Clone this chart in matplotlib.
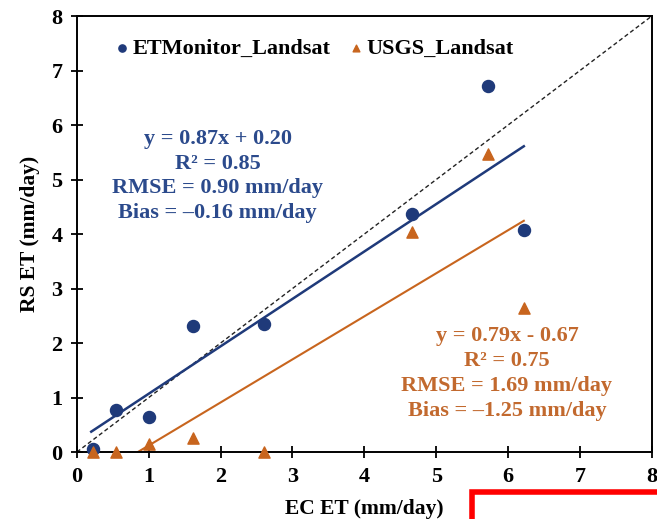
import matplotlib
matplotlib.use("Agg")
import matplotlib.pyplot as plt
import numpy as np
from matplotlib.patches import Rectangle

plt.rcParams['font.family'] = ['Liberation Serif', 'DejaVu Serif']
plt.rcParams['font.weight'] = 'bold'

ec_et = [0.22, 0.55, 1.0, 1.62, 2.6, 4.66, 5.72, 6.22]
etmonitor = [0.05, 0.78, 0.65, 2.32, 2.35, 4.36, 6.72, 4.08]
usgs = [0.0, 0.0, 0.15, 0.25, 0.0, 4.04, 5.47, 2.65]

blue_fit = (0.87, 0.20)
orange_fit = (0.79, -0.67)
blue_fit_x = [0.2, 6.22]
orange_fit_x = [0.85, 6.22]

ticks = [0, 1, 2, 3, 4, 5, 6, 7, 8]

blue = '#1f3a7a'
orange = '#c8651e'
blue_txt = '#2b4a8c'
orange_txt = '#c2692e'

fig = plt.figure(figsize=(6.57, 5.19), dpi=100)
ax = fig.add_axes([0.117, 0.129, 0.875, 0.840])

ax.plot([0, 8], [0, 8], linestyle=(0, (3, 2)), color='#222222', linewidth=1.0, zorder=1)

bx = np.array(blue_fit_x)
ax.plot(bx, blue_fit[0] * bx + blue_fit[1], color=blue, linewidth=1.8, zorder=2)
ox = np.array(orange_fit_x)
ax.plot(ox, orange_fit[0] * ox + orange_fit[1], color=orange, linewidth=1.5, zorder=2)

ax.scatter(ec_et, etmonitor, s=75, marker='o', color=blue, label='ETMonitor_Landsat', zorder=3, clip_on=False)
ax.scatter(ec_et, usgs, s=65, marker='^', color=orange, label='USGS_Landsat', zorder=3, clip_on=False)

ax.set_xlim(0, 8)
ax.set_ylim(0, 8)
ax.set_xticks(ticks)
ax.set_yticks(ticks)
ax.tick_params(direction='inout', length=9, width=1.3, labelsize=16, pad=6)
for lab in ax.get_xticklabels() + ax.get_yticklabels():
    lab.set_fontweight('bold')
for sp in ax.spines.values():
    sp.set_linewidth(1.4)

ax.set_xlabel('EC ET (mm/day)', fontsize=15.5, fontweight='bold', labelpad=9)
ax.set_ylabel('RS ET (mm/day)', fontsize=15.5, fontweight='bold', labelpad=8)

leg = ax.legend(loc='upper left', bbox_to_anchor=(0.027, 0.995), ncol=2, frameon=False,
                prop={'size': 16, 'weight': 'bold'}, handletextpad=0.0, columnspacing=0.7,
                markerscale=0.6, handlelength=0.9)

ax.text(0.245, 0.742, 'y = 0.87x + 0.20\nR² = 0.85\nRMSE = 0.90 mm/day\nBias = –0.16 mm/day',
        transform=ax.transAxes, ha='center', va='top', color=blue_txt, fontsize=16,
        fontweight='bold', linespacing=1.33)
ax.text(0.748, 0.289, 'y = 0.79x - 0.67\nR² = 0.75\nRMSE = 1.69 mm/day\nBias = –1.25 mm/day',
        transform=ax.transAxes, ha='center', va='top', color=orange_txt, fontsize=16,
        fontweight='bold', linespacing=1.33)

fig.patches.append(Rectangle((472 / 657, -0.05), 0.3, 0.052 + 0.05, transform=fig.transFigure,
                             fill=False, edgecolor='#ff0000', linewidth=4, clip_on=False))

fig.savefig('out.png', dpi=100)
